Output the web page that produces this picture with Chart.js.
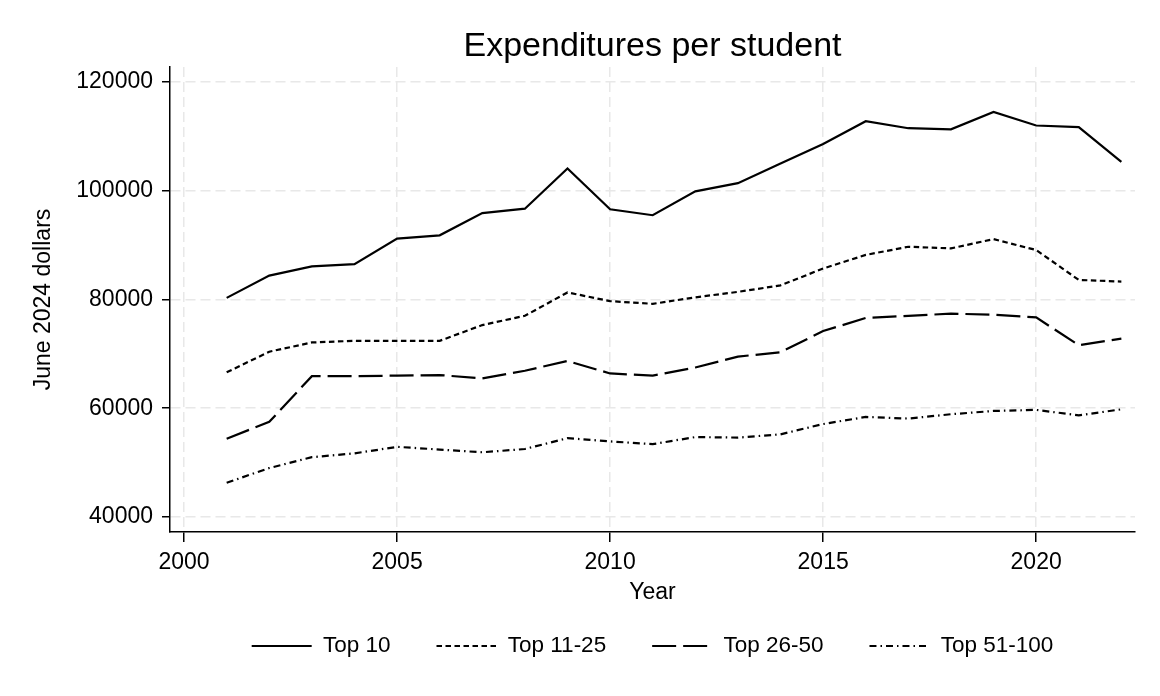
<!DOCTYPE html>
<html>
<head>
<meta charset="utf-8">
<script src="https://cdn.jsdelivr.net/npm/chart.js@4.4.0/dist/chart.umd.min.js"></script>
<style>
  html, body { margin: 0; padding: 0; background: #fff; }
  #wrap { width: 1160px; height: 696px; }
</style>
</head>
<body>
<div id="wrap"><canvas id="chart"></canvas></div>
<script>
const years = [2001, 2002, 2003, 2004, 2005, 2006, 2007, 2008, 2009, 2010, 2011,
  2012, 2013, 2014, 2015, 2016, 2017, 2018, 2019, 2020, 2021, 2022];
const top10 = [80300, 84400, 86100, 86500, 91200, 91800, 95900, 96700, 104100, 96600, 95500,
  99900, 101400, 105000, 108600, 112800, 111500, 111300, 114500, 112000, 111700, 105300];
const top11to25 = [66600, 70400, 72100, 72400, 72400, 72400, 75300, 77000, 81300, 79700, 79200,
  80400, 81400, 82600, 85700, 88200, 89700, 89400, 91100, 89100, 83600, 83300];
const top26to50 = [54400, 57500, 65900, 65900, 66000, 66100, 65500, 66900, 68700, 66400, 66000,
  67500, 69500, 70300, 74200, 76600, 77000, 77400, 77200, 76700, 71600, 72800];
const top51to100 = [46300, 49000, 51000, 51700, 52900, 52400, 51900, 52500, 54500, 53900, 53400,
  54700, 54600, 55200, 57100, 58400, 58100, 58900, 59500, 59700, 58700, 59800];
const seriesNames = ['Top 10', 'Top 11-25', 'Top 26-50', 'Top 51-100'];
const xTicks = [2000, 2005, 2010, 2015, 2020];
const yTicks = [40000, 60000, 80000, 100000, 120000];

const allSeries = [top10, top11to25, top26to50, top51to100];
const dashes = [[], [5.5, 3.5], [24, 7], [7, 4, 1.5, 4]];
const lineW = 2.2;
const fontFamily = '"Liberation Sans", Arial, sans-serif';
const gridColor = '#e8e8e8';

function toPoints(values) {
  return values.map((v, i) => ({ x: years[i], y: v }));
}

const datasets = allSeries.map((values, i) => ({
  label: seriesNames[i],
  data: toPoints(values),
  borderColor: '#000',
  backgroundColor: '#000',
  borderWidth: lineW,
  borderDash: dashes[i],
  borderCapStyle: 'butt',
  pointRadius: 0,
  tension: 0,
  fill: false
}));

// legend entries use the point style, so put the line dash back on them
function legendLabels(chart) {
  const items = Chart.defaults.plugins.legend.labels.generateLabels(chart);
  return items.map((item, i) => Object.assign(item, {
    lineDash: chart.data.datasets[i].borderDash,
    lineWidth: lineW,
    strokeStyle: '#000',
    fillStyle: '#000'
  }));
}

new Chart(document.getElementById('chart'), {
  type: 'line',
  data: { datasets: datasets },
  options: {
    responsive: true,
    maintainAspectRatio: false,
    animation: false,
    layout: { padding: { left: 0, right: 25, top: 0, bottom: 28.75 } },
    scales: {
      x: {
        type: 'linear',
        min: 1999.67,
        max: 2022.32,
        afterBuildTicks: s => { s.ticks = xTicks.map(v => ({ value: v })); },
        afterFit: s => { s.height = 56.75; },
        ticks: {
          color: '#000',
          font: { family: fontFamily, size: 23 },
          padding: 7,
          maxRotation: 0,
          autoSkip: false,
          callback: v => String(v)
        },
        grid: { color: gridColor, lineWidth: 1.5, tickColor: '#000', tickLength: 10, tickWidth: 1.5 },
        border: { display: true, color: '#000', width: 1.5, dash: [10, 5] },
        title: {
          display: true, text: 'Year', color: '#000',
          font: { family: fontFamily, size: 23 },
          padding: { top: 0, bottom: -17.5 }
        }
      },
      y: {
        type: 'linear',
        min: 37240,
        max: 122760,
        afterBuildTicks: s => { s.ticks = yTicks.map(v => ({ value: v })); },
        afterFit: s => { s.width = 170; },
        ticks: {
          color: '#000',
          font: { family: fontFamily, size: 23 },
          padding: 9,
          autoSkip: false,
          callback: v => String(v)
        },
        grid: { color: gridColor, lineWidth: 1.5, tickColor: '#000', tickLength: 8, tickWidth: 1.5 },
        border: { display: true, color: '#000', width: 1.5, dash: [10, 5] },
        title: {
          display: true, text: 'June 2024 dollars', color: '#000',
          font: { family: fontFamily, size: 23 },
          padding: { top: 30, bottom: 0 }
        }
      }
    },
    plugins: {
      title: {
        display: true,
        text: 'Expenditures per student',
        color: '#000',
        fullSize: false,
        font: { family: fontFamily, size: 34, weight: 'normal' },
        padding: { top: 26, bottom: 0.2 }
      },
      legend: {
        position: 'bottom',
        fullSize: false,
        align: 'center',
        labels: {
          usePointStyle: true,
          pointStyle: 'line',
          pointStyleWidth: 60,
          padding: 46,
          color: '#000',
          font: { family: fontFamily, size: 22.5 },
          generateLabels: legendLabels
        }
      },
      tooltip: { enabled: false }
    }
  }
});
</script>
</body>
</html>
